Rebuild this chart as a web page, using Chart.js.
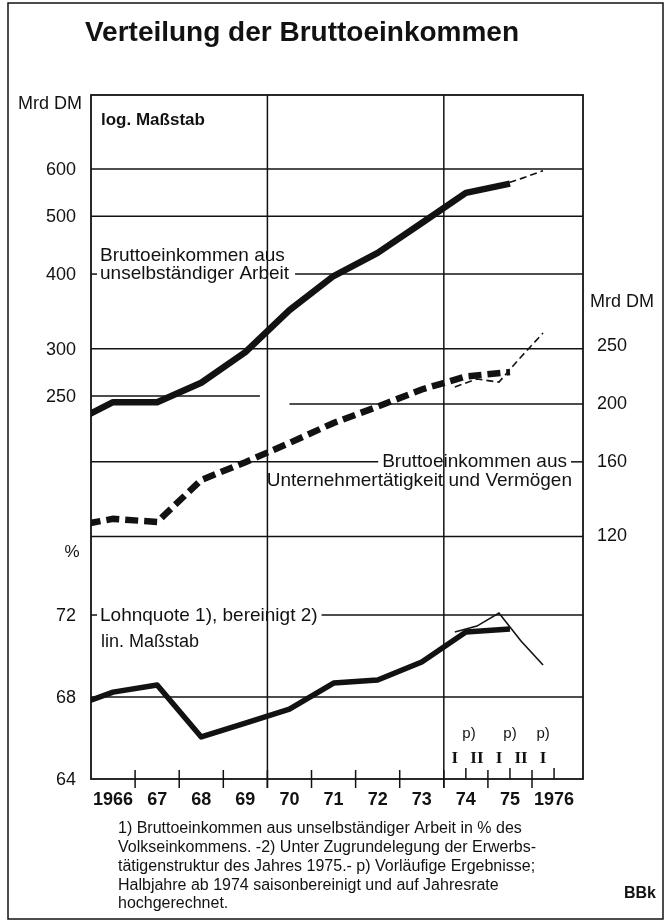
<!DOCTYPE html>
<html><head><meta charset="utf-8">
<script src="https://cdn.jsdelivr.net/npm/chart.js@4.4.1/dist/chart.umd.min.js"></script>
<style>html,body{margin:0;padding:0;background:#fff;}#wrap{width:670px;height:923px;position:relative;}</style>
</head><body><div id="wrap"><canvas id="c" width="670" height="923"></canvas></div>
<script>
// ---- data ----
const years = [1965, 1966, 1967, 1968, 1969, 1970, 1971, 1972, 1973, 1974, 1975];
// Bruttoeinkommen aus unselbständiger Arbeit, Mrd DM (annual)
const wageAnnual = [224, 244, 244, 263, 296, 348, 397, 434, 487, 547, 567];
// Bruttoeinkommen aus Unternehmertätigkeit und Vermögen, Mrd DM (annual)
const entAnnual = [124.5, 128.4, 126.9, 149.2, 159.8, 172.1, 185.9, 198, 211.5, 222.4, 226.2];
// Lohnquote, bereinigt, % (annual)
const shareAnnual = [67.46, 68.24, 68.59, 66.05, 66.73, 67.41, 68.68, 68.83, 69.71, 71.17, 71.32];

// half-year data (p), seasonally adjusted, annual rate
const halfYears = [1974, 1974, 1975, 1975, 1976];
const halfNo = ['I', 'II', 'I', 'II', 'I'];
const wageHalf = [null, null, 562, 578, 596];
const entHalf = [213.6, 220.2, 217.6, 239.8, 263];
const shareHalf = [71.17, 71.46, 72.10, 70.73, 69.56];

// tick labels
const wageTicks = [600, 500, 400, 300, 250];
const entTicks = [250, 200, 160, 120];
const shareTicks = [72, 68, 64];
const xLabels = ['1966', '67', '68', '69', '70', '71', '72', '73', '74', '75', '1976'];
const pMarks = ['p)', 'p)', 'p)'];

const footnote = [
  '1) Bruttoeinkommen aus unselbständiger Arbeit in % des',
  'Volkseinkommens. -2) Unter Zugrundelegung der Erwerbs-',
  'tätigenstruktur des Jahres 1975.- p) Vorläufige Ergebnisse;',
  'Halbjahre ab 1974 saisonbereinigt und auf Jahresrate',
  'hochgerechnet.'
];

// ---- build ----
const INK = '#121212';
const SANS = '"Liberation Sans", Arial, Helvetica, sans-serif';
const SERIF = '"Liberation Serif", "DejaVu Serif", serif';

const annualPts = arr => years.map((y, i) => ({x: y + 0.5, y: arr[i]}));
const halfPts = arr => halfYears.map((y, i) => ({x: y + (halfNo[i] === 'I' ? 0.25 : 0.75), y: arr[i]})).filter(p => p.y !== null);

const frame = {
  id: 'frame',
  beforeDatasetsDraw(chart) {
    const c = chart.ctx, ca = chart.chartArea, s = chart.scales;
    const X = v => s.x.getPixelForValue(v);
    const W = v => s.yW.getPixelForValue(v);
    const U = v => s.yU.getPixelForValue(v);
    const P = v => s.yP.getPixelForValue(v);
    c.save();
    c.strokeStyle = INK; c.lineCap = 'butt';
    const h = (y, x1, x2, w) => { c.lineWidth = w || 1.5; c.beginPath(); c.moveTo(x1, y); c.lineTo(x2, y); c.stroke(); };
    const v = (x, y1, y2, w) => { c.lineWidth = w || 1.5; c.beginPath(); c.moveTo(x, y1); c.lineTo(x, y2); c.stroke(); };

    h(W(600), ca.left, ca.right);
    h(W(500), ca.left, ca.right);
    h(W(300), ca.left, ca.right);
    h(W(250), ca.left, X(1969.83));
    h(U(200), X(1970.5), ca.right);
    h(U(120), ca.left, ca.right);
    h(P(68), ca.left, ca.right);

    c.font = '19px ' + SANS;
    const w400 = c.measureText('unselbständiger Arbeit').width;
    h(W(400), ca.left, ca.left + 6);
    h(W(400), ca.left + 9 + w400 + 6, ca.right);
    const w160 = c.measureText('Bruttoeinkommen aus').width;
    h(U(160), ca.left, ca.right - 16 - w160 - 4);
    h(U(160), ca.right - 12, ca.right);
    const w72 = c.measureText('Lohnquote 1), bereinigt 2)').width;
    h(P(72), ca.left, ca.left + 6);
    h(P(72), ca.left + 9 + w72 + 4, ca.right);

    v(X(1970), ca.top, ca.bottom + 9);
    v(X(1974), ca.top, ca.bottom + 9);
    for (let y = 1967; y <= 1976; y++) v(X(y), ca.bottom - 9, ca.bottom + 9);
    [1974.5, 1975.5, 1976.5].forEach(y => v(X(y), ca.bottom - 11, ca.bottom));
    c.lineWidth = 1.8;
    c.strokeRect(ca.left, ca.top, ca.right - ca.left, ca.bottom - ca.top);
    c.lineWidth = 1.5;
    c.strokeRect(8, 3, 655, 916);
    c.restore();
  },
  afterDatasetsDraw(chart) {
    const c = chart.ctx, ca = chart.chartArea, s = chart.scales;
    const X = v => s.x.getPixelForValue(v);
    const W = v => s.yW.getPixelForValue(v);
    const U = v => s.yU.getPixelForValue(v);
    const P = v => s.yP.getPixelForValue(v);
    c.save();
    c.fillStyle = INK;
    c.textBaseline = 'middle';

    c.font = 'bold 28px ' + SANS;
    c.textAlign = 'center';
    c.fillText('Verteilung der Bruttoeinkommen', 302, 33);

    c.font = '18px ' + SANS;
    c.textAlign = 'left';
    c.fillText('Mrd DM', 18, 104);
    c.textAlign = 'right';
    wageTicks.forEach(t => c.fillText(String(t), 76, W(t) + 1));
    shareTicks.forEach(t => c.fillText(String(t), 76, P(t) + 1));
    c.textAlign = 'center';
    c.font = '17px ' + SANS;
    c.fillText('%', 72, 552);

    c.font = '18px ' + SANS;
    c.textAlign = 'left';
    c.fillText('Mrd DM', 590, 302);
    entTicks.forEach(t => c.fillText(String(t), 597, U(t)));

    c.font = 'bold 17px ' + SANS;
    c.fillText('log. Maßstab', 101, 120);
    c.font = '19px ' + SANS;
    c.fillText('Bruttoeinkommen aus', 100, 256);
    c.fillText('unselbständiger Arbeit', ca.left + 9, W(400));
    c.fillText('Lohnquote 1), bereinigt 2)', ca.left + 9, P(72) + 1);
    c.font = '18px ' + SANS;
    c.fillText('lin. Maßstab', 101, 642);
    c.font = '19px ' + SANS;
    c.textAlign = 'right';
    c.fillText('Bruttoeinkommen aus', ca.right - 16, U(160));
    c.fillText('Unternehmertätigkeit und Vermögen', ca.right - 11, U(160) + 19);

    c.textAlign = 'center';
    c.font = 'bold 17px ' + SERIF;
    halfYears.forEach((y, i) => {
      const xv = y + (halfNo[i] === 'I' ? 0.25 : 0.75);
      c.fillText(halfNo[i], X(xv), 759);
    });
    c.font = '15px ' + SANS;
    [1974.57, 1975.5, 1976.25].forEach((xv, i) => c.fillText(pMarks[i], X(xv), 734));

    c.font = 'bold 18px ' + SANS;
    xLabels.forEach((l, i) => c.fillText(l, X(1966.5 + i), 800));

    c.font = '16px ' + SANS;
    c.textAlign = 'left';
    footnote.forEach((l, i) => c.fillText(l, 118, 829 + i * 18.7));
    c.font = 'bold 16px ' + SANS;
    c.textAlign = 'right';
    c.fillText('BBk', 656, 894);
    c.restore();
  }
};

new Chart(document.getElementById('c'), {
  type: 'line',
  data: {
    datasets: [
      {data: annualPts(wageAnnual), yAxisID: 'yW', borderColor: INK, borderWidth: 6.5, borderJoinStyle: 'round', clip: 0},
      {data: halfPts(wageHalf), yAxisID: 'yW', borderColor: INK, borderWidth: 1.6, borderDash: [7, 4], clip: 0},
      {data: annualPts(entAnnual), yAxisID: 'yU', borderColor: INK, borderWidth: 6.5, borderDash: [13, 6], clip: 0},
      {data: halfPts(entHalf), yAxisID: 'yU', borderColor: INK, borderWidth: 1.6, borderDash: [7, 4], clip: 0},
      {data: annualPts(shareAnnual), yAxisID: 'yP', borderColor: INK, borderWidth: 5.5, borderJoinStyle: 'round', clip: 0},
      {data: halfPts(shareHalf), yAxisID: 'yP', borderColor: INK, borderWidth: 1.6, clip: 0}
    ]
  },
  options: {
    responsive: false,
    animation: false,
    devicePixelRatio: 1,
    layout: {padding: {left: 91, right: 87, top: 95, bottom: 144}},
    elements: {point: {radius: 0}, line: {tension: 0, fill: false}},
    plugins: {legend: {display: false}, tooltip: {enabled: false}},
    scales: {
      x: {type: 'linear', min: 1966, max: 1977.156, display: false},
      yW: {type: 'logarithmic', min: 57.05, max: 798, display: false},
      yU: {type: 'logarithmic', min: 47.08, max: 658.6, display: false},
      yP: {type: 'linear', min: 64, max: 97.37, display: false}
    }
  },
  plugins: [frame]
});
</script></body></html>
